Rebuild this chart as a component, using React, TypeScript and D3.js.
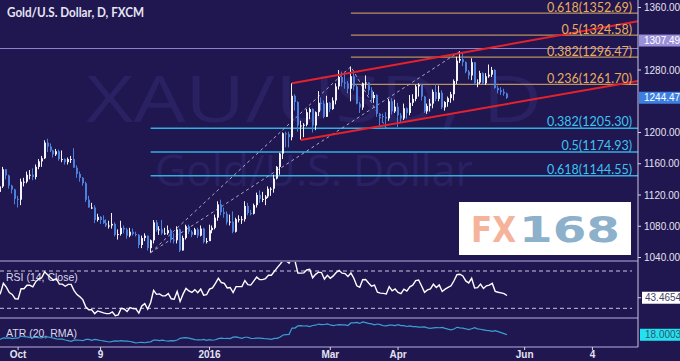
import React from 'react';
import * as d3 from 'd3';

const W = 680;
const H = 361;

// Daily XAU/USD candles, Sep 22 2015 .. May 24 2016 (weekdays, no Dec 25 / Jan 1)
const OPEN = [
  1133,1124,1131,1153,1145,1132,1127,1115,1114,1137,1137,1146,1146,1143,1156,1163,1167,1187,1182,1177,
  1172,1176,1166,1166,1162,1166,1166,1155,1147,1142,1135,1114,1104,1104,1088,1092,1088,1084,1081,1081,
  1083,1069,1070,1078,1076,1068,1073,1070,1069,1056,1065,1068,1052,1062,1085,1075,1076,1071,1071,1075,
  1063,1062,1076,1049,1065,1080,1073,1069,1076,1068,1077,1060,1061,1075,1078,1091,1108,1098,1096,1085,
  1086,1073,1089,1089,1089,1106,1097,1096,1107,1120,1115,1115,1118,1128,1128,1141,1156,1173,1199,1198,
  1194,1247,1239,1209,1209,1210,1226,1230,1209,1226,1238,1237,1220,1238,1230,1241,1259,1271,1264,1263,
  1256,1272,1259,1237,1232,1263,1264,1254,1244,1248,1224,1221,1220,1218,1240,1227,1233,1222,1218,1231,
  1225,1238,1243,1259,1261,1246,1227,1234,1237,1252,1243,1251,1232,1239,1244,1249,1266,1292,1294,1290,
  1278,1273,1290,1263,1264,1276,1263,1272,1274,1280,1257,1254,1252,1250
];
const HIGH = [
  1134,1133,1156,1153,1146,1133,1128,1119,1141,1142,1150,1152,1154,1159,1166,1170,1190,1192,1186,1178,
  1179,1178,1177,1167,1168,1170,1180,1158,1150,1143,1137,1119,1110,1107,1096,1093,1094,1089,1087,1097,
  1085,1076,1087,1081,1078,1078,1077,1073,1070,1068,1071,1068,1063,1088,1088,1080,1088,1078,1081,1077,
  1071,1080,1077,1068,1082,1082,1075,1078,1078,1081,1078,1065,1082,1081,1095,1112,1114,1104,1099,1095,
  1099,1091,1094,1093,1112,1110,1101,1109,1123,1126,1124,1120,1131,1130,1146,1157,1174,1200,1201,1201,
  1263,1249,1240,1215,1212,1230,1232,1231,1227,1253,1245,1241,1247,1239,1245,1263,1280,1278,1278,1266,
  1284.4,1278,1262,1239,1264,1273,1264,1258,1252,1249,1225,1224,1226,1243,1244,1242,1238,1225,1237,1232,
  1248,1249,1261,1263,1262,1247,1237,1243,1255,1262,1260,1254,1240,1246,1252,1268,1297,1303.8,1303,1291,
  1280,1295,1290,1268,1279,1277,1276,1287,1284,1281,1260,1258,1256,1251
];
const LOW = [
  1120,1118,1129,1140,1128,1122,1108,1104,1107,1131,1135,1140,1139,1140,1153,1156,1166,1175,1175,1168,
  1170,1164,1162,1159,1159,1161,1155,1142,1137,1132,1111,1104,1102,1084,1086,1083,1083,1079,1077,1077,
  1067,1063,1068,1071,1064,1066,1068,1067,1052,1052,1061,1049,1046.2,1058,1073,1069,1069,1069,1069,1059,
  1058,1058,1047,1049,1063,1070,1066,1069,1065,1067,1058,1058,1061,1071,1076,1087,1094,1091,1082,1081,
  1071,1072,1085,1083,1086,1094,1094,1095,1104,1110,1111,1107,1116,1119,1123,1140,1146,1166,1181,1181,
  1190,1228,1201,1191,1194,1208,1217,1200,1203,1221,1228,1218,1220,1226,1229,1236,1255,1259,1256,1250,
  1240,1254,1236,1225,1229,1256,1248,1240,1238,1220,1208,1212,1205.5,1215,1223,1225,1207,1212,1216,1218,
  1222,1234,1240,1246,1241,1225,1224,1227,1231,1240,1240,1230,1228,1233,1238,1241,1262,1289,1285,1276,
  1268,1267,1261,1258,1262,1262,1261,1270,1271,1256,1250,1248,1247,1243
];
const CLOSE = [
  1124,1131,1153,1145,1132,1127,1115,1114,1137,1137,1146,1146,1143,1156,1163,1167,1187,1182,1177,1172,
  1176,1166,1166,1162,1166,1166,1155,1147,1142,1135,1114,1104,1104,1088,1092,1088,1084,1081,1081,1083,
  1069,1070,1078,1076,1068,1073,1070,1069,1056,1065,1068,1052,1062,1085,1075,1076,1071,1071,1075,1063,
  1062,1076,1049,1065,1080,1073,1069,1076,1068,1077,1060,1061,1075,1078,1091,1108,1098,1096,1085,1086,
  1073,1089,1089,1089,1106,1097,1096,1107,1120,1115,1115,1118,1128,1128,1141,1156,1173,1199,1198,1194,
  1247,1239,1209,1209,1210,1226,1230,1209,1226,1238,1237,1220,1238,1230,1241,1259,1271,1264,1263,1256,
  1272,1259,1237,1232,1263,1264,1254,1244,1248,1224,1221,1220,1218,1240,1227,1233,1222,1218,1231,1225,
  1238,1243,1259,1261,1246,1227,1234,1237,1252,1243,1251,1232,1239,1244,1249,1266,1292,1294,1290,1278,
  1273,1290,1263,1264,1276,1263,1272,1274,1280,1257,1254,1252,1250,1244.47
];
// closes before the first visible candle (indicator warm-up)
const PRE_CLOSE = [1153,1138,1124,1124,1134,1132,1140,1134,1124,1121,1120,1121,1109,1110,1108,1108,1102,1118,1118,1138,1133];
const ATR_SEED = 15.5;

// price labels that are visible on the right axis
const PRICE_TICKS = [1040, 1080, 1120, 1160, 1200, 1280, 1360];
const X_TICK_IDX = [7, 35, 72, 113, 136, 179, 202];
const X_TICK_LABELS = ['Oct', '9', '2016', 'Mar', 'Apr', 'Jun', '4'];

const FIB_UP_RATIOS = ['0.618', '0.5', '0.382', '0.236'];
const FIB_UP_VALUES = [1352.69, 1324.58, 1296.47, 1261.7];
const FIB_UP_START = 120;
const FIB_DN_RATIOS = ['0.382', '0.5', '0.618'];
const FIB_DN_VALUES = [1205.3, 1174.93, 1144.55];
const FIB_DN_START = 52;

const CHANNEL_UPPER = [[100, 1263], [157, 1301.5]];
const CHANNEL_LOWER = [[103, 1190.4], [160, 1228]];
const DASH_A = [[52, 1046.2], [120, 1284.4], [132, 1205.5]];
const DASH_B = [[52, 1046.2], [157, 1303.8]];

const RESISTANCE = 1307.49;
const LAST_PRICE = 1244.47;
const RSI_LAST = 43.4654;
const ATR_LAST = 18.0003;

const BG = '#201650';
const UP = '#f2f2f8';
const DOWN = '#4d80dc';
const PLOT_R = 638;
const MAIN_B = 261;
const RSI_B = 318;
const ATR_B = 347;

function computeRSI(closes: number[], period: number) {
  const out: number[] = [];
  let ag = 0, al = 0;
  for (let i = 1; i <= period; i++) {
    const d = closes[i] - closes[i - 1];
    if (d > 0) ag += d; else al -= d;
  }
  ag /= period; al /= period;
  out[period] = 100 - 100 / (1 + ag / al);
  for (let i = period + 1; i < closes.length; i++) {
    const d = closes[i] - closes[i - 1];
    ag = (ag * (period - 1) + Math.max(d, 0)) / period;
    al = (al * (period - 1) + Math.max(-d, 0)) / period;
    out[i] = al === 0 ? 100 : 100 - 100 / (1 + ag / al);
  }
  return out;
}

export default function App() {
  const N = CLOSE.length;
  const x = d3.scaleLinear().domain([0, N - 1]).range([-2.5, 507]);
  const y = d3.scaleLinear().domain([1040, 1360]).range([257.5, 7.5]);
  const yRsi = d3.scaleLinear().domain([30, 70]).range([308.3, 271]);
  const idxEnd = x.invert(PLOT_R);

  const allCloses = PRE_CLOSE.concat(CLOSE);
  const rsiAll = computeRSI(allCloses, 14);
  const rsi = CLOSE.map((_, i) => rsiAll[i + PRE_CLOSE.length]);

  const atr: number[] = [];
  let prevAtr = ATR_SEED;
  for (let i = 0; i < N; i++) {
    const pc = i === 0 ? PRE_CLOSE[PRE_CLOSE.length - 1] : CLOSE[i - 1];
    const tr = Math.max(HIGH[i] - LOW[i], Math.abs(HIGH[i] - pc), Math.abs(LOW[i] - pc));
    prevAtr = (prevAtr * 19 + tr) / 20;
    atr.push(prevAtr);
  }
  const atrExt = d3.extent(atr) as [number, number];
  const yAtr = d3.scaleLinear().domain(atrExt).range([343, 322]);

  const rsiPath = d3.line<number>().x((_, i) => x(i)).y((d) => yRsi(d))(rsi) || '';
  const atrPath = d3.line<number>().x((_, i) => x(i)).y((d) => yAtr(d))(atr) || '';
  const ptLine = d3.line<number[]>().x((d) => x(d[0])).y((d) => y(d[1]));

  const extend = (pts: number[][]) => {
    const [a, b] = pts;
    const slope = (b[1] - a[1]) / (b[0] - a[0]);
    return [a, [idxEnd, a[1] + slope * (idxEnd - a[0])]];
  };

  const font = "Lato, 'Open Sans', 'DejaVu Sans', sans-serif";
  const axisFont = "'Liberation Sans', Arial, sans-serif";
  const atrBoxY = yAtr(atr[N - 1]);

  return (
    <svg width={W} height={H} style={{ position: 'absolute', left: 0, top: 0, background: BG }}>
      <defs>
        <clipPath id="mainClip"><rect x={0} y={0} width={PLOT_R} height={MAIN_B} /></clipPath>
        <clipPath id="rsiClip"><rect x={0} y={MAIN_B + 1} width={PLOT_R} height={RSI_B - MAIN_B - 1} /></clipPath>
        <clipPath id="atrClip"><rect x={0} y={RSI_B + 1} width={PLOT_R} height={ATR_B - RSI_B - 1} /></clipPath>
      </defs>
      <rect x={0} y={0} width={W} height={H} fill={BG} />

      {/* watermark */}
      <text x={86} y={122} fontSize={64} fill="#2a2163" fontFamily="'Open Sans', sans-serif" textLength={456} lengthAdjust="spacingAndGlyphs">XAU/USD, D</text>
      <text x={155} y={186} fontSize={44} fill="#2a2163" fontFamily="'Open Sans', sans-serif" textLength={318} lengthAdjust="spacingAndGlyphs">Gold/U.S. Dollar</text>

      {/* title */}
      <text x={7} y={17} fontSize={12.5} fontWeight={700} fill="#e6e6f2" fontFamily={font} textLength={137} lengthAdjust="spacingAndGlyphs">Gold/U.S. Dollar, D, FXCM</text>

      <g clipPath="url(#mainClip)">
        {FIB_DN_VALUES.map((v, k) => (
          <line key={'fd' + k} x1={x(FIB_DN_START)} x2={PLOT_R} y1={y(v)} y2={y(v)} stroke="#34aee0" strokeWidth={1.5} />
        ))}
        {FIB_UP_VALUES.map((v, k) => (
          <line key={'fu' + k} x1={x(FIB_UP_START)} x2={PLOT_R} y1={y(v)} y2={y(v)} stroke="#b89062" strokeWidth={1.2} />
        ))}
        <line x1={0} x2={PLOT_R} y1={y(RESISTANCE)} y2={y(RESISTANCE)} stroke="#8d82d2" strokeWidth={1.2} />

        <path d={ptLine(DASH_A) || ''} fill="none" stroke="#a9a6c8" strokeWidth={1} strokeDasharray="3,3" />
        <path d={ptLine(DASH_B) || ''} fill="none" stroke="#a9a6c8" strokeWidth={1} strokeDasharray="3,3" />

        {CLOSE.map((c, i) => {
          const o = OPEN[i];
          const up = c >= o;
          const col = up ? UP : DOWN;
          const rx = Math.round(x(i) - 1);
          const top = y(Math.max(o, c));
          const bot = y(Math.min(o, c));
          return (
            <g key={i}>
              <rect x={rx} y={y(HIGH[i])} width={1} height={Math.max(1, y(LOW[i]) - y(HIGH[i]))} fill={col} />
              <rect x={rx} y={top} width={2} height={Math.max(1, bot - top)} fill={col} />
            </g>
          );
        })}

        <path d={ptLine(extend(CHANNEL_UPPER)) || ''} stroke="#e5222c" strokeWidth={2} fill="none" />
        <path d={ptLine(extend(CHANNEL_LOWER)) || ''} stroke="#e5222c" strokeWidth={2} fill="none" />
      </g>

      {FIB_UP_VALUES.map((v, k) => (
        <text key={'fut' + k} x={632} y={y(v) - 1.5} textAnchor="end" fontSize={12.5} fill="#e8ad5c" fontFamily={font}>
          {`${FIB_UP_RATIOS[k]}(${v.toFixed(2)})`}
        </text>
      ))}
      {FIB_DN_VALUES.map((v, k) => (
        <text key={'fdt' + k} x={632} y={y(v) - 2} textAnchor="end" fontSize={12.5} fill="#3cc4f0" fontFamily={font}>
          {`${FIB_DN_RATIOS[k]}(${v.toFixed(2)})`}
        </text>
      ))}

      {/* FX168 logo */}
      <rect x={459} y={202} width={172} height={53} fill="#ffffff" />
      <text x={471} y={242} fontSize={36} fontWeight={700} fill="#f5b39c" fontFamily="'DejaVu Sans', sans-serif" textLength={45} lengthAdjust="spacingAndGlyphs">FX</text>
      <text x={519} y={242} fontSize={36} fontWeight={700} fill="#8db0cb" fontFamily="'DejaVu Sans', sans-serif" textLength={101} lengthAdjust="spacingAndGlyphs">168</text>

      <line x1={0} x2={PLOT_R} y1={MAIN_B} y2={MAIN_B} stroke="#b7aee0" strokeWidth={1} />
      <line x1={0} x2={PLOT_R} y1={RSI_B} y2={RSI_B} stroke="#b7aee0" strokeWidth={1} />
      <line x1={0} x2={PLOT_R} y1={ATR_B} y2={ATR_B} stroke="#b7aee0" strokeWidth={1} />
      <line x1={PLOT_R} x2={PLOT_R} y1={0} y2={ATR_B} stroke="#c9c6e2" strokeWidth={1} />

      {/* RSI */}
      <line x1={0} x2={632} y1={yRsi(70)} y2={yRsi(70)} stroke="#c8c6e4" strokeWidth={1} strokeDasharray="4,3" />
      <line x1={0} x2={632} y1={yRsi(30)} y2={yRsi(30)} stroke="#c8c6e4" strokeWidth={1} strokeDasharray="4,3" />
      <text x={6} y={281} fontSize={10.5} fill="#d8d8ea" fontFamily={axisFont}>RSI (14, Close)</text>
      <g clipPath="url(#rsiClip)">
        <path d={rsiPath} fill="none" stroke="#ffffff" strokeWidth={1.4} />
      </g>

      {/* ATR */}
      <text x={6} y={337} fontSize={10.5} fill="#d8d8ea" fontFamily={axisFont}>ATR (20, RMA)</text>
      <g clipPath="url(#atrClip)">
        <path d={atrPath} fill="none" stroke="#3a9fd3" strokeWidth={1.2} />
      </g>

      {/* right price axis */}
      {PRICE_TICKS.map((p) => (
        <g key={p}>
          <line x1={PLOT_R} x2={PLOT_R + 3} y1={y(p)} y2={y(p)} stroke="#d8d8ea" />
          <text x={644} y={y(p) + 3.5} fontSize={10} fill="#e4e4f0" fontFamily={axisFont}>{p.toFixed(2)}</text>
        </g>
      ))}
      <rect x={PLOT_R + 1} y={y(RESISTANCE) - 14} width={W - PLOT_R - 1} height={12} fill="#9a8fd8" />
      <text x={644} y={y(RESISTANCE) - 4.5} fontSize={10} fill="#ffffff" fontFamily={axisFont}>{RESISTANCE.toFixed(2)}</text>
      <rect x={PLOT_R + 1} y={y(LAST_PRICE) - 6} width={W - PLOT_R - 1} height={12} fill="#3d7fe0" />
      <text x={644} y={y(LAST_PRICE) + 3.5} fontSize={10} fill="#ffffff" fontFamily={axisFont}>{LAST_PRICE.toFixed(2)}</text>

      <line x1={PLOT_R} x2={PLOT_R + 3} y1={yRsi(RSI_LAST) + 2} y2={yRsi(RSI_LAST) + 2} stroke="#d8d8ea" />
      <rect x={PLOT_R + 4} y={yRsi(RSI_LAST) - 4} width={W - PLOT_R - 4} height={12} fill="#ffffff" />
      <text x={645} y={yRsi(RSI_LAST) + 5.5} fontSize={10} fill="#444466" fontFamily={axisFont}>{RSI_LAST.toFixed(4)}</text>
      <rect x={PLOT_R + 2} y={atrBoxY - 6} width={W - PLOT_R - 2} height={12} fill="#22e2f2" />
      <text x={645} y={atrBoxY + 3.5} fontSize={10} fill="#335566" fontFamily={axisFont}>{ATR_LAST.toFixed(4)}</text>

      {/* x axis */}
      {X_TICK_IDX.map((t, k) => (
        <g key={'xt' + k}>
          <line x1={x(t)} x2={x(t)} y1={ATR_B} y2={ATR_B + 3} stroke="#d8d8ea" />
          <text x={x(t)} y={358} textAnchor="middle" fontSize={10} fontWeight={700} fill="#e4e4f0" fontFamily={axisFont}>{X_TICK_LABELS[k]}</text>
        </g>
      ))}
    </svg>
  );
}
